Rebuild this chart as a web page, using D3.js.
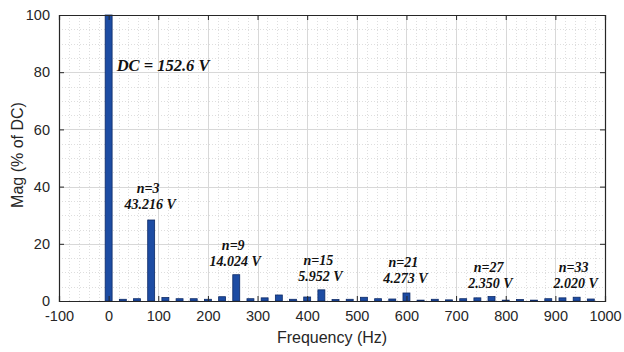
<!DOCTYPE html>
<html>
<head>
<meta charset="utf-8">
<script src="https://cdn.jsdelivr.net/npm/d3@7"></script>
<style>
  html, body { margin: 0; padding: 0; background: #fff; }
  svg { display: block; }
</style>
</head>
<body>
<svg id="chart" width="624" height="352"></svg>
<script>
// Harmonic spectrum of the output voltage, magnitudes in % of the DC component
const freqs = [0, 28.6, 57.1, 85.7, 114.3, 142.9, 171.4, 200, 228.6, 257.1,
  285.7, 314.3, 342.9, 371.4, 400, 428.6, 457.1, 485.7, 514.3, 542.9,
  571.4, 600, 628.6, 657.1, 685.7, 714.3, 742.9, 771.4, 800, 828.6,
  857.1, 885.7, 914.3, 942.9, 971.4];
const mags = [100, 0.6, 0.8, 28.32, 1.2, 0.8, 0.8, 0.6, 1.5, 9.19,
  0.8, 1.1, 2.1, 0.6, 1.4, 3.90, 0.5, 0.6, 1.3, 0.8,
  0.7, 2.80, 0.3, 0.6, 0.4, 0.8, 1.1, 1.54, 0.3, 0.5,
  0.3, 0.8, 1.1, 1.32, 0.7];

// Annotated harmonics: order, amplitude text, index into the series
const noteOrders = ["n=3", "n=9", "n=15", "n=21", "n=27", "n=33"];
const noteVolts = ["43.216 V", "14.024 V", "5.952 V", "4.273 V", "2.350 V", "2.020 V"];
const noteIndex = [3, 9, 15, 21, 27, 33];
const dcLabel = "DC = 152.6 V";

const xTicks = [-100, 0, 100, 200, 300, 400, 500, 600, 700, 800, 900, 1000];
const yTicks = [0, 20, 40, 60, 80, 100];

// layout: baseline (in axis units) of the amplitude line of each note
const noteLevel = [32.2, 12.2, 7.0, 6.3, 4.5, 4.5];

const svg = d3.select("#chart");
const L = 59, R = 605, T = 15, B = 301;
const x = d3.scaleLinear().domain([-100, 1000]).range([L, R]);
const y = d3.scaleLinear().domain([0, 100]).range([B, T]);

const ink = "#262626";

// minor grid (dotted)
const minorX = d3.range(-100, 1001, 20).filter(v => v % 100 !== 0);
const minorY = d3.range(0, 101, 5).filter(v => v % 20 !== 0);
const grid = svg.append("g");
grid.selectAll(".mx").data(minorX).enter().append("line")
  .attr("x1", d => Math.round(x(d)) + 0.5).attr("x2", d => Math.round(x(d)) + 0.5)
  .attr("y1", T).attr("y2", B)
  .attr("stroke", "#dedede").attr("stroke-width", 1).attr("stroke-dasharray", "1,2");
grid.selectAll(".my").data(minorY).enter().append("line")
  .attr("y1", d => Math.round(y(d)) + 0.5).attr("y2", d => Math.round(y(d)) + 0.5)
  .attr("x1", L).attr("x2", R)
  .attr("stroke", "#dedede").attr("stroke-width", 1).attr("stroke-dasharray", "1,2");
// major grid
grid.selectAll(".gx").data(xTicks).enter().append("line")
  .attr("x1", d => Math.round(x(d)) + 0.5).attr("x2", d => Math.round(x(d)) + 0.5)
  .attr("y1", T).attr("y2", B)
  .attr("stroke", "#d8d8d8").attr("stroke-width", 1);
grid.selectAll(".gy").data(yTicks).enter().append("line")
  .attr("y1", d => Math.round(y(d)) + 0.5).attr("y2", d => Math.round(y(d)) + 0.5)
  .attr("x1", L).attr("x2", R)
  .attr("stroke", "#d8d8d8").attr("stroke-width", 1);

// bars
const halfW = 7;
svg.append("g").selectAll("rect").data(freqs).enter().append("rect")
  .attr("x", d => x(d - halfW))
  .attr("width", d => x(d + halfW) - x(d - halfW))
  .attr("y", (d, i) => y(mags[i]))
  .attr("height", (d, i) => y(0) - y(mags[i]))
  .attr("fill", "#1d4ca3")
  .attr("stroke", "#0d2a66")
  .attr("stroke-width", 0.8);

// axes with inward ticks
const fontSans = "'Liberation Sans', Arial, sans-serif";
const plain = d => String(d);
const xAxis = svg.append("g").attr("transform", `translate(0,${B})`)
  .call(d3.axisBottom(x).tickValues(xTicks).tickSize(-5).tickPadding(9).tickFormat(plain));
const xTop = svg.append("g").attr("transform", `translate(0,${T})`)
  .call(d3.axisTop(x).tickValues(xTicks).tickSize(-5).tickFormat(""));
const yAxis = svg.append("g").attr("transform", `translate(${L},0)`)
  .call(d3.axisLeft(y).tickValues(yTicks).tickSize(-5).tickPadding(9).tickFormat(plain));
const yRight = svg.append("g").attr("transform", `translate(${R},0)`)
  .call(d3.axisRight(y).tickValues(yTicks).tickSize(-5).tickFormat(""));
[xAxis, xTop, yAxis, yRight].forEach(g => {
  g.select(".domain").attr("stroke", ink).attr("stroke-width", 1.2);
  g.selectAll(".tick line").attr("stroke", ink);
  g.selectAll("text").attr("fill", ink).style("font-family", fontSans).style("font-size", "14.5px");
});
xAxis.selectAll(".tick text").attr("dy", "0.75em");

// axis titles
svg.append("text")
  .attr("x", (L + R) / 2).attr("y", 343)
  .attr("text-anchor", "middle")
  .attr("fill", ink).style("font-family", fontSans).style("font-size", "16px")
  .text("Frequency (Hz)");
svg.append("text")
  .attr("transform", `translate(23,${(T + B) / 2 - 3}) rotate(-90)`)
  .attr("text-anchor", "middle")
  .attr("fill", ink).style("font-family", fontSans).style("font-size", "16px")
  .text("Mag (% of DC)");

// annotations
const fontSerif = "'Liberation Serif', 'Times New Roman', serif";
svg.append("text")
  .attr("x", x(freqs[0]) + 8).attr("y", 71)
  .attr("fill", "#111").style("font-family", fontSerif).style("font-size", "16.5px")
  .style("font-weight", "bold").style("font-style", "italic")
  .text(dcLabel);

noteIndex.forEach((k, i) => {
  const cx = x(freqs[k]);
  const base = y(noteLevel[i]);
  const g = svg.append("g")
    .style("font-family", fontSerif).style("font-size", "14px")
    .style("font-weight", "bold").style("font-style", "italic")
    .attr("fill", "#111").attr("text-anchor", "middle");
  g.append("text").attr("x", cx - 3).attr("y", base - 16).text(noteOrders[i]);
  g.append("text").attr("x", cx - 1).attr("y", base).text(noteVolts[i]);
});
</script>
</body>
</html>
